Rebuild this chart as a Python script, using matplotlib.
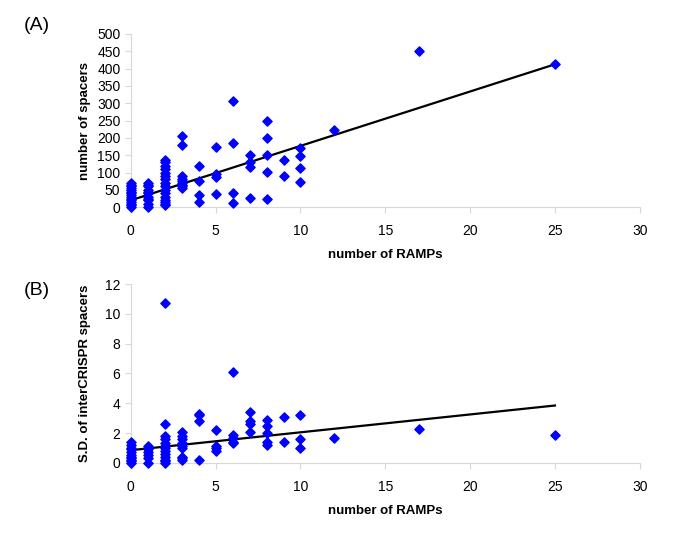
import numpy as np
import matplotlib.pyplot as plt

plt.rcParams['font.family'] = ['Liberation Sans', 'DejaVu Sans']

# panel A: number of spacers vs number of RAMPs
ramps_a = ([0]*15 + [1]*11 + [2]*16 + [3]*9 + [4]*4 + [5]*4 + [6]*4 + [7]*4
           + [8]*5 + [9]*2 + [10]*4 + [12, 17, 25])
spacers = ([0, 5, 10, 15, 20, 25, 30, 35, 40, 45, 50, 55, 60, 65, 70]
           + [0, 10, 20, 25, 30, 40, 45, 50, 60, 65, 70]
           + [5, 10, 15, 20, 30, 40, 50, 60, 70, 80, 90, 100, 110, 120, 130, 135]
           + [55, 60, 65, 70, 75, 80, 90, 180, 205]
           + [15, 35, 75, 120]
           + [37, 87, 95, 173]
           + [12, 40, 185, 307]
           + [28, 115, 130, 152]
           + [25, 103, 150, 200, 248]
           + [90, 137]
           + [73, 112, 148, 170]
           + [222, 450, 413])
fit_a = (15.7, 20.0)  # slope, intercept

# panel B: S.D. of interCRISPR spacers vs number of RAMPs
ramps_b = ([0]*11 + [1]*7 + [2]*13 + [3]*9 + [4]*4 + [5]*4 + [6]*5 + [7]*4
           + [8]*5 + [9]*2 + [10]*3 + [12, 17, 25])
sd = ([0, 0.1, 0.2, 0.3, 0.4, 0.5, 0.7, 0.9, 1.0, 1.2, 1.4]
      + [0, 0.3, 0.5, 0.7, 0.9, 1.0, 1.1]
      + [0, 0.1, 0.2, 0.4, 0.6, 0.8, 1.0, 1.1, 1.3, 1.6, 1.8, 2.6, 10.7]
      + [0.2, 0.3, 0.4, 1.0, 1.1, 1.3, 1.6, 1.8, 2.1]
      + [0.2, 2.8, 3.2, 3.3]
      + [0.8, 1.0, 1.1, 2.2]
      + [1.3, 1.4, 1.7, 1.9, 6.1]
      + [2.1, 2.6, 2.8, 3.4]
      + [1.2, 1.4, 2.0, 2.5, 2.9]
      + [1.4, 3.1]
      + [1.0, 1.6, 3.2]
      + [1.7, 2.3, 1.9])
fit_b = (0.12, 0.85)

fig = plt.figure(figsize=(6.85, 5.57), dpi=100)
axA = fig.add_axes([0.191, 0.628, 0.743, 0.311])
axB = fig.add_axes([0.191, 0.169, 0.743, 0.321])

def style(ax, ymax, ystep):
    ax.set_xlim(0, 30)
    ax.set_ylim(0, ymax)
    ax.set_xticks(np.arange(0, 31, 5))
    ax.set_yticks(np.arange(0, ymax + ystep / 2, ystep))
    for s in ['top', 'right']:
        ax.spines[s].set_visible(False)
    for s in ['left', 'bottom']:
        ax.spines[s].set_color('#d8d8d8')
        ax.spines[s].set_linewidth(0.8)
    ax.tick_params(colors='#d8d8d8', labelcolor='black', labelsize=10, length=4, width=0.8)
    ax.tick_params(axis='x', pad=8)
    ax.set_xlabel('number of RAMPs', fontsize=9.5, fontweight='bold', labelpad=8)

xs = np.array([0, 25])
axA.plot(xs, fit_a[0] * xs + fit_a[1], color='black', lw=1.6, zorder=2)
axA.scatter(ramps_a, spacers, marker='D', s=22, color='#0000ff', zorder=3, clip_on=False)
style(axA, 500, 50)
axA.set_ylabel('number of spacers', fontsize=9.5, fontweight='bold', labelpad=4)

axB.plot(xs, fit_b[0] * xs + fit_b[1], color='black', lw=1.6, zorder=2)
axB.scatter(ramps_b, sd, marker='D', s=22, color='#0000ff', zorder=3, clip_on=False)
style(axB, 12, 2)
axB.set_ylabel('S.D. of interCRISPR spacers', fontsize=9.5, fontweight='bold', labelpad=10)

fig.text(0.035, 0.955, '(A)', fontsize=14, va='center')
fig.text(0.035, 0.478, '(B)', fontsize=14, va='center')

fig.savefig('out.png', dpi=100)
